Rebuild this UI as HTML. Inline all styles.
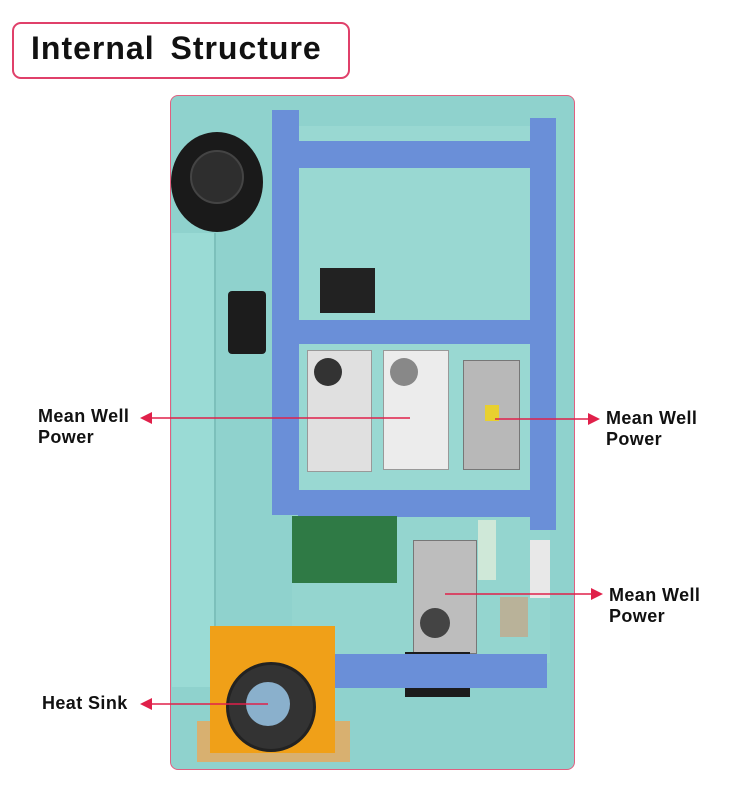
<!DOCTYPE html>
<html><head><style>
body{margin:0;width:750px;height:800px;background:#fff;position:relative;overflow:hidden;font-family:"Liberation Sans",sans-serif}
.a{position:absolute}
.lbl{position:absolute;font-weight:bold;font-size:18px;line-height:21px;color:#111;letter-spacing:0.4px}
</style></head><body>
<div class="a" style="left:12px;top:22px;width:334px;height:53px;border:2px solid #e0406a;border-radius:9px"></div>
<div class="a" style="left:31px;top:28px;font-size:32px;font-weight:bold;line-height:40px;color:#111;word-spacing:6px;letter-spacing:1px">Internal Structure</div>

<div class="a" style="left:170px;top:95px;width:403px;height:673px;background:#8fd2cd;border:1px solid #e06080;border-radius:8px;overflow:hidden">
</div>
<div class="a" style="left:172px;top:233px;width:42px;height:454px;background:#9adbd5;border-right:2px solid #7cc0bb"></div>
<div class="a" style="left:296px;top:126px;width:234px;height:395px;background:#99d8d2"></div>
<div class="a" style="left:292px;top:515px;width:258px;height:148px;background:#94d5cf"></div>
<div class="a" style="left:171px;top:132px;width:92px;height:100px;border-radius:50%;background:#1a1a1a"></div>
<div class="a" style="left:190px;top:150px;width:50px;height:50px;border-radius:50%;background:#2e2e2e;border:2px solid #444"></div>
<div class="a" style="left:228px;top:291px;width:38px;height:63px;background:#1c1c1c;border-radius:4px"></div>
<div class="a" style="left:272px;top:110px;width:27px;height:405px;background:#6a8fd8"></div>
<div class="a" style="left:530px;top:118px;width:26px;height:412px;background:#6a8fd8"></div>
<div class="a" style="left:298px;top:141px;width:232px;height:27px;background:#6a8fd8"></div>
<div class="a" style="left:298px;top:320px;width:232px;height:24px;background:#6a8fd8"></div>
<div class="a" style="left:298px;top:490px;width:234px;height:27px;background:#6a8fd8"></div>
<div class="a" style="left:320px;top:268px;width:55px;height:45px;background:#222"></div>
<div class="a" style="left:307px;top:350px;width:63px;height:120px;background:#e0e0e0;border:1px solid #999"></div>
<div class="a" style="left:314px;top:358px;width:28px;height:28px;border-radius:50%;background:#333"></div>
<div class="a" style="left:383px;top:350px;width:64px;height:118px;background:#ececec;border:1px solid #999"></div>
<div class="a" style="left:390px;top:358px;width:28px;height:28px;border-radius:50%;background:#888"></div>
<div class="a" style="left:463px;top:360px;width:55px;height:108px;background:#b8b8b8;border:1px solid #777"></div>
<div class="a" style="left:485px;top:405px;width:14px;height:16px;background:#e8d030"></div>
<div class="a" style="left:292px;top:516px;width:105px;height:67px;background:#2f7a45"></div>
<div class="a" style="left:413px;top:540px;width:62px;height:112px;background:#bdbdbd;border:1px solid #777"></div>
<div class="a" style="left:420px;top:608px;width:30px;height:30px;border-radius:50%;background:#444"></div>
<div class="a" style="left:405px;top:652px;width:65px;height:45px;background:#1c1c1c"></div>
<div class="a" style="left:478px;top:520px;width:18px;height:60px;background:#cfe8d8"></div>
<div class="a" style="left:530px;top:540px;width:20px;height:58px;background:#e8e8e8"></div>
<div class="a" style="left:500px;top:597px;width:28px;height:40px;background:#b9b299"></div>
<div class="a" style="left:335px;top:654px;width:212px;height:34px;background:#6a8fd8"></div>
<div class="a" style="left:197px;top:721px;width:153px;height:41px;background:#d8b070"></div>
<div class="a" style="left:210px;top:626px;width:125px;height:127px;background:#f0a018"></div>
<div class="a" style="left:226px;top:662px;width:84px;height:84px;border-radius:50%;background:#333;border:3px solid #222"></div>
<div class="a" style="left:246px;top:682px;width:44px;height:44px;border-radius:50%;background:#8ab0cc"></div>

<svg class="a" style="left:0;top:0" width="750" height="800">
<g stroke="#e0204a" stroke-width="1.5" fill="#e0204a">
<line x1="148" y1="418" x2="410" y2="418"/><polygon points="140,418 152,412 152,424" stroke="none"/>
<line x1="495" y1="419" x2="592" y2="419"/><polygon points="600,419 588,413 588,425" stroke="none"/>
<line x1="445" y1="594" x2="595" y2="594"/><polygon points="603,594 591,588 591,600" stroke="none"/>
<line x1="148" y1="704" x2="268" y2="704"/><polygon points="140,704 152,698 152,710" stroke="none"/>
</g></svg>
<div class="lbl" style="left:38px;top:406px">Mean Well<br>Power</div>
<div class="lbl" style="left:606px;top:408px">Mean Well<br>Power</div>
<div class="lbl" style="left:609px;top:585px">Mean Well<br>Power</div>
<div class="lbl" style="left:42px;top:693px">Heat Sink</div>
</body></html>
